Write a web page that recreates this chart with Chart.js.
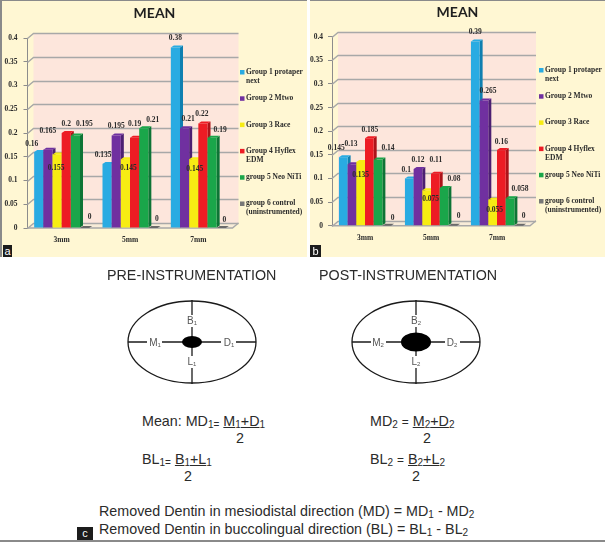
<!DOCTYPE html>
<html>
<head>
<meta charset="utf-8">
<script src="https://cdn.jsdelivr.net/npm/chart.js@4"></script>
<style>
    html, body { margin: 0; padding: 0; background: #fff; }
    #page { position: relative; width: 605px; height: 542px; overflow: hidden; font-family: "Liberation Sans", Arial, sans-serif; color: #2b2b2b; }
    .panel { position: absolute; top: 0; height: 257px; background: #fff7d3; border-top: 1px solid #8a8a8a; box-sizing: border-box; }
    .panel canvas { position: absolute; left: 0; top: -1px; }
    .badge { position: absolute; background: #1c1c1c; color: #fff; font-size: 11px; line-height: 12px; text-align: center; }
    .txt { position: absolute; white-space: nowrap; line-height: 1; font-size: 14.3px; }
    .txt sub { font-size: 70%; line-height: 0; vertical-align: -2px; }
    .frac { text-decoration: underline; }
    #bottomLine { position: absolute; left: 0; right: 0; top: 540px; height: 2px; background: #8a8a8a; }
</style>
</head>
<body>
<div id="page">
    <div class="panel" style="left:0;width:307px;border-left:2px solid #8a8a8a"><canvas id="chartA"></canvas></div>
    <div class="panel" style="left:310px;width:295px"><canvas id="chartB"></canvas></div>
    <div class="badge" style="left:3px;top:245px;width:9px;height:12px">a</div>
    <div class="badge" style="left:310px;top:245px;width:11px;height:12px">b</div>

    <div class="txt" style="left:107px;top:268px">PRE-INSTRUMENTATION</div>
    <div class="txt" style="left:319px;top:268px">POST-INSTRUMENTATION</div>
    <svg style="position:absolute;left:0;top:290px" width="605" height="110" font-family="Liberation Sans" font-size="10" fill="#555" text-anchor="middle">
        <g stroke="#1a1a1a" stroke-width="1.3" fill="none">
            <ellipse cx="192" cy="52" rx="64" ry="41"/>
            <line x1="128" y1="52" x2="256" y2="52"/><line x1="192" y1="10" x2="192" y2="94"/>
            <ellipse cx="416" cy="52" rx="64" ry="41"/>
            <line x1="352" y1="52" x2="480" y2="52"/><line x1="416" y1="10" x2="416" y2="94"/>
        </g>
        <ellipse cx="192" cy="52" rx="10" ry="6" fill="#000"/>
        <ellipse cx="416" cy="52" rx="15" ry="9.5" fill="#000"/>
        <g fill="#fff">
            <rect x="185" y="25" width="14" height="12"/><rect x="185" y="66" width="14" height="12"/>
            <rect x="147" y="46" width="15" height="12"/><rect x="221" y="46" width="15" height="12"/>
            <rect x="409" y="25" width="14" height="12"/><rect x="409" y="66" width="14" height="12"/>
            <rect x="371" y="46" width="15" height="12"/><rect x="445" y="46" width="15" height="12"/>
        </g>
        <text x="192" y="34">B<tspan font-size="6" dy="1">1</tspan></text>
        <text x="192" y="75">L<tspan font-size="6" dy="1">1</tspan></text>
        <text x="155" y="56">M<tspan font-size="6" dy="1">1</tspan></text>
        <text x="229" y="56">D<tspan font-size="6" dy="1">1</tspan></text>
        <text x="416" y="34">B<tspan font-size="6" dy="1">2</tspan></text>
        <text x="416" y="75">L<tspan font-size="6" dy="1">2</tspan></text>
        <text x="378" y="56">M<tspan font-size="6" dy="1">2</tspan></text>
        <text x="452" y="56">D<tspan font-size="6" dy="1">2</tspan></text>
    </svg>

    <div class="txt" style="left:142px;top:414px">Mean: MD<sub>1=</sub> <span class="frac">M<sub>1</sub>+D<sub>1</sub></span></div>
    <div class="txt" style="left:236px;top:431px">2</div>
    <div class="txt" style="left:142px;top:452px">BL<sub>1=</sub> <span class="frac">B<sub>1</sub>+L<sub>1</sub></span></div>
    <div class="txt" style="left:184px;top:469px">2</div>
    <div class="txt" style="left:370px;top:414px">MD<sub>2</sub> <small>=</small> <span class="frac">M<sub>2</sub>+D<sub>2</sub></span></div>
    <div class="txt" style="left:423px;top:431px">2</div>
    <div class="txt" style="left:370px;top:452px">BL<sub>2</sub> <small>=</small> <span class="frac">B<sub>2</sub>+L<sub>2</sub></span></div>
    <div class="txt" style="left:412px;top:469px">2</div>
    <div class="txt" style="left:99px;top:504px">Removed Dentin in mesiodistal direction (MD) = MD<sub>1</sub> - MD<sub>2</sub></div>
    <div class="txt" style="left:99px;top:522px">Removed Dentin in buccolingual direction (BL) = BL<sub>1</sub> - BL<sub>2</sub></div>
    <div id="bottomLine"></div>
    <div class="badge" style="left:77px;top:527px;width:16px;height:13px;line-height:13px">c</div>
</div>

<script>
// data
const categories = ["3mm", "5mm", "7mm"];
const groupNames = ["Group 1 protaper next", "Group 2 Mtwo", "Group 3 Race", "Group 4 Hyflex EDM", "group 5 Neo NiTi", "group 6 control (uninstrumented)"];
const legendLines = [["Group 1 protaper", "next"], ["Group 2 Mtwo"], ["Group 3 Race"], ["Group 4 Hyflex", "EDM"], ["group 5 Neo NiTi"], ["group 6 control", "(uninstrumented)"]];

const aGroup1 = [0.16, 0.135, 0.38];
const aGroup2 = [0.165, 0.195, 0.21];
const aGroup3 = [0.155, 0.145, 0.145];
const aGroup4 = [0.2, 0.19, 0.22];
const aGroup5 = [0.195, 0.21, 0.19];
const aGroup6 = [0, 0, 0];

const bGroup1 = [0.145, 0.1, 0.39];
const bGroup2 = [0.13, 0.12, 0.265];
const bGroup3 = [0.135, 0.075, 0.055];
const bGroup4 = [0.185, 0.11, 0.16];
const bGroup5 = [0.14, 0.08, 0.058];
const bGroup6 = [0, 0, 0];

const frontColors = ["#29abe2", "#7030a0", "#f7ec13", "#ed1c24", "#1aa64a", "#777777"];
const sideColors = ["#0f7fb0", "#4c1f72", "#c8be05", "#ad1319", "#0d7435", "#6a6a6a"];

// label shifts from the top of each bar, [dx, dy] per group then category
const aNudge = [
    [[-7, -8], [-4, -9], [0, -9]],
    [[0, -19], [0, -9], [3.5, -9]],
    [[-1, 14], [3, 9], [1, 10]],
    [[0, -9], [0, -14], [-1, -9]],
    [[9, -11], [9, -8], [8, -8]],
    [[5, -11], [4, -9], [3, -8]]
];
const bNudge = [
    [[-7, -9], [-3, -8], [0, -9]],
    [[-1, -20], [0, -9], [4, -9]],
    [[0, 13], [4, 9], [2, 10]],
    [[0.5, -8], [0.5, -14], [0, -8]],
    [[10, -11], [10, -9], [10, -9]],
    [[6, -8], [6, -10], [5, -10]]
];

const labelFont = "bold 7.5px 'Liberation Serif'";
const depthX = 3;
const depthY = 2;

// fake 3D look: back wall, floor, and bars with a side and a top face
const fake3d = {
    id: "fake3d",
    // the right padding makes room for the legend, the title still centres on the whole panel
    afterLayout(chart) {
        chart.titleBlock.right = chart.width;
    },
    beforeDatasetsDraw(chart, args, opts) {
        const ctx = chart.ctx;
        const area = chart.chartArea;
        const y = chart.scales.y;
        const dx = opts.wallX, dy = opts.wallY;
        ctx.save();
        ctx.fillStyle = "#fde6dc";
        ctx.fillRect(area.left + dx, area.top - dy, area.width, area.height);
        ctx.fillStyle = "#f8ecd8";
        ctx.beginPath();
        ctx.moveTo(area.left, area.bottom);
        ctx.lineTo(area.left + dx, area.bottom - dy);
        ctx.lineTo(area.right + dx, area.bottom - dy);
        ctx.lineTo(area.right, area.bottom);
        ctx.closePath();
        ctx.fill();
        ctx.strokeStyle = "#a8a8a8";
        ctx.lineWidth = 1.4;
        y.ticks.forEach((t) => {
            const py = Math.round(y.getPixelForValue(t.value)) + 0.5;
            ctx.beginPath();
            ctx.moveTo(area.left, py);
            ctx.lineTo(area.left + dx, py - dy);
            ctx.lineTo(area.right + dx, py - dy);
            ctx.stroke();
        });
        ctx.beginPath();
        ctx.moveTo(area.left, area.bottom);
        ctx.lineTo(area.right, area.bottom);
        ctx.lineTo(area.right + dx, area.bottom - dy);
        ctx.stroke();
        ctx.restore();
    },
    // native drawing goes last series first, the picture needs first series first
    beforeDatasetDraw() {
        return false;
    },
    afterDatasetsDraw(chart, args, opts) {
        const ctx = chart.ctx;
        chart.data.datasets.forEach((ds, i) => {
            chart.getDatasetMeta(i).data.forEach((bar) => {
                const l = bar.x - bar.width / 2;
                const r = bar.x + bar.width / 2;
                ctx.save();
                ctx.fillStyle = sideColors[i];
                ctx.beginPath();
                ctx.moveTo(r, bar.y);
                ctx.lineTo(r + depthX, bar.y - depthY);
                ctx.lineTo(r + depthX, bar.base - depthY);
                ctx.lineTo(r, bar.base);
                ctx.closePath();
                ctx.fill();
                ctx.fillStyle = bar.base - bar.y < 1 ? sideColors[i] : frontColors[i];
                ctx.beginPath();
                ctx.moveTo(l, bar.y);
                ctx.lineTo(l + depthX, bar.y - depthY);
                ctx.lineTo(r + depthX, bar.y - depthY);
                ctx.lineTo(r, bar.y);
                ctx.closePath();
                ctx.fill();
                ctx.restore();
                bar.draw(ctx);
            });
        });

        // value labels
        ctx.save();
        ctx.font = labelFont;
        ctx.fillStyle = "#2b2b2b";
        ctx.textAlign = "center";
        ctx.textBaseline = "middle";
        chart.data.datasets.forEach((ds, i) => {
            chart.getDatasetMeta(i).data.forEach((bar, j) => {
                const shift = opts.nudge[i][j];
                ctx.fillText(String(ds.data[j]), bar.x + shift[0], bar.y + shift[1]);
            });
        });
        ctx.restore();

        // legend with wrapped names
        ctx.save();
        ctx.font = labelFont;
        ctx.textAlign = "left";
        ctx.textBaseline = "middle";
        legendLines.forEach((lines, i) => {
            const ly = opts.legendY + i * opts.legendStep;
            ctx.fillStyle = frontColors[i];
            ctx.fillRect(opts.legendX, ly - 2, 4.5, 4.5);
            ctx.fillStyle = "#2b2b2b";
            lines.forEach((line, n) => ctx.fillText(line, opts.legendX + 6, ly + n * 9));
        });
        ctx.restore();
    }
};

function makeChart(id, seriesList, geo, nudge) {
    const canvas = document.getElementById(id);
    canvas.style.width = geo.width + "px";
    canvas.style.height = "257px";
    canvas.width = geo.width;
    canvas.height = 257;

    return new Chart(canvas.getContext("2d"), {
        type: "bar",
        plugins: [fake3d],
        data: {
            labels: categories,
            datasets: seriesList.map((values, i) => ({
                label: groupNames[i],
                data: values,
                backgroundColor: frontColors[i],
                borderWidth: 0,
                barPercentage: 1,
                categoryPercentage: geo.group
            }))
        },
        options: {
            responsive: false,
            animation: false,
            layout: { padding: { left: 0, right: geo.width - geo.right, top: geo.titleTop, bottom: 0 } },
            scales: {
                x: {
                    grid: { display: false, tickLength: 0 },
                    border: { display: false },
                    ticks: { color: "#2b2b2b", font: { family: "Liberation Serif", size: 7.5, weight: "bold" }, padding: 8, maxRotation: 0 },
                    afterFit: (s) => { s.height = 257 - geo.bottom; }
                },
                y: {
                    min: 0,
                    max: 0.4,
                    ticks: {
                        stepSize: 0.05,
                        color: "#2b2b2b",
                        font: { family: "Liberation Serif", size: 7.5, weight: "bold" },
                        padding: geo.tickPad,
                        callback: (v) => String(+v.toFixed(2))
                    },
                    grid: { drawOnChartArea: false, drawTicks: true, tickLength: 4, color: "#8c8c8c" },
                    border: { color: "#8c8c8c" },
                    afterFit: (s) => { s.width = geo.left; }
                }
            },
            plugins: {
                legend: { display: false },
                tooltip: { enabled: false },
                title: {
                    display: true,
                    text: "MEAN",
                    color: "#1f1f1f",
                    font: { family: "Lato", size: 14, weight: "bold" },
                    padding: { top: 0, bottom: geo.top - geo.titleTop - 16.8 }
                },
                fake3d: { wallX: 6, wallY: 5, legendX: geo.legendX, legendY: geo.legendY, legendStep: geo.legendStep, nudge: nudge }
            }
        }
    });
}

makeChart("chartA", [aGroup1, aGroup2, aGroup3, aGroup4, aGroup5, aGroup6],
    { width: 305, left: 25.5, right: 230.5, top: 38, bottom: 228, titleTop: 5, group: 0.805, tickPad: 6, legendX: 238, legendY: 72, legendStep: 26.3 }, aNudge);
makeChart("chartB", [bGroup1, bGroup2, bGroup3, bGroup4, bGroup5, bGroup6],
    { width: 295, left: 22, right: 220, top: 36.7, bottom: 225.7, titleTop: 4, group: 0.79, tickPad: 5, legendX: 229, legendY: 70, legendStep: 26.2 }, bNudge);
</script>
</body>
</html>
